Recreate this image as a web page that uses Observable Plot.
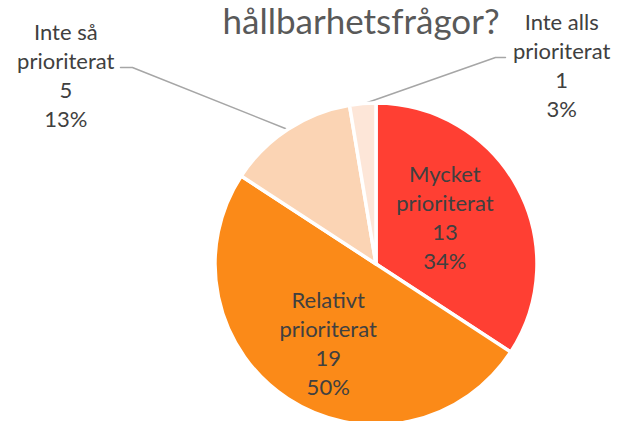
<!DOCTYPE html>
<html><head><meta charset="utf-8">
<script src="https://cdn.jsdelivr.net/npm/d3@7"></script>
<script src="https://cdn.jsdelivr.net/npm/@observablehq/plot@0.6"></script>
<style>body{margin:0;background:#fff}</style>
</head><body><div id="chart"></div>
<script>
// ---- data ----
const categories = ["Mycket prioriterat", "Relativt prioriterat", "Inte så prioriterat", "Inte alls prioriterat"];
const labelLines = [["Mycket", "prioriterat"], ["Relativt", "prioriterat"], ["Inte så", "prioriterat"], ["Inte alls", "prioriterat"]];
const counts = [13, 19, 5, 1];
const percents = ["34%", "50%", "13%", "3%"];
const titleText = "hållbarhetsfrågor?";

// ---- styles / layout ----
const sliceColors = ["#FF3F33", "#FB8A18", "#FBD4B4", "#FDE6D8"];
const textColor = "#404040";
const leaderColor = "#A6A6A6";
const font = "Lato, 'Open Sans', sans-serif";
// inside label placement: radius (pie radius = 1) and angle nudge (degrees)
const insideLayout = {
  "Mycket prioriterat": {r: 0.52, dAngle: -6.8},
  "Relativt prioriterat": {r: 0.57, dAngle: -1.4}
};
// outside label layout (data units, pie radius = 1)
const outsideLayout = {
  "Inte så prioriterat": {label: [-1.93, 1.18], elbow: [-1.516, 1.224], end: [-1.59, 1.224]},
  "Inte alls prioriterat": {label: [1.15, 1.245], elbow: [0.739, 1.286], end: [0.801, 1.286]}
};

// ---- derived ----
const rows = categories.map((c, i) => ({
  category: c,
  value: counts[i],
  label: [...labelLines[i], String(counts[i]), percents[i]].join("\n")
}));
const arcs = d3.pie().sort(null).value(d => d.value)(rows);
arcs.forEach(a => { a.mid = (a.startAngle + a.endAngle) / 2; });
const color = Plot.scale({color: {domain: categories, range: sliceColors}});

const inside = arcs.filter(a => insideLayout[a.data.category]).map(a => {
  const L = insideLayout[a.data.category];
  const ang = a.mid + L.dAngle * Math.PI / 180;
  return {label: a.data.label, x: L.r * Math.sin(ang), y: L.r * Math.cos(ang)};
});
const outside = arcs.filter(a => outsideLayout[a.data.category]).map(a => ({
  label: a.data.label,
  x: outsideLayout[a.data.category].label[0],
  y: outsideLayout[a.data.category].label[1]
}));
const leaders = arcs.filter(a => outsideLayout[a.data.category]).flatMap(a => {
  const L = outsideLayout[a.data.category];
  return [
    {category: a.data.category, x: Math.sin(a.mid), y: Math.cos(a.mid)},
    {category: a.data.category, x: L.elbow[0], y: L.elbow[1]},
    {category: a.data.category, x: L.end[0], y: L.end[1]}
  ];
});

function slices(index, scales) {
  const cx = scales.x(0), cy = scales.y(0), r = scales.x(1) - cx;
  const arc = d3.arc().innerRadius(0).outerRadius(r);
  const g = d3.create("svg:g").attr("transform", `translate(${cx},${cy})`);
  g.selectAll("path").data(arcs).join("path")
    .attr("d", arc)
    .attr("fill", d => color.apply(d.data.category))
    .attr("stroke", "#fff")
    .attr("stroke-width", 3.5)
    .attr("stroke-linejoin", "round");
  return g.node();
}

const chart = Plot.plot({
  width: 624,
  height: 421,
  margin: 0,
  x: {domain: [-1, 1], range: [215, 537], axis: null},
  y: {domain: [-1, 1], range: [425, 103], axis: null},
  style: {fontFamily: font, background: "#fff"},
  marks: [
    Plot.text([titleText], {text: d => d, frameAnchor: "top-left", textAnchor: "start", lineAnchor: "top", dx: 222, dy: 9, fontSize: 35, fill: "#595959"}),
    Plot.line(leaders, {x: "x", y: "y", z: "category", stroke: leaderColor, strokeWidth: 1.5}),
    slices,
    Plot.text(inside, {x: "x", y: "y", text: "label", fontSize: 22, lineHeight: 1.32, fill: textColor}),
    Plot.text(outside, {x: "x", y: "y", text: "label", fontSize: 22, lineHeight: 1.32, fill: textColor})
  ]
});
document.getElementById("chart").appendChild(chart);
</script>
</body></html>
